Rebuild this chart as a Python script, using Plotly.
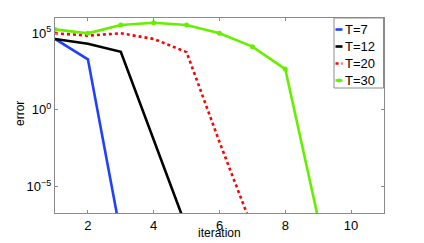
import plotly.graph_objects as go

iter_t7 = [1, 2, 3]
err_t7 = [4.3e4, 2.0e3, 7e-9]
iter_t12 = [1, 2, 3, 4, 5]
err_t12 = [4.3e4, 2.1e4, 6.2e3, 1.1e-2, 2e-8]
iter_t20 = [1, 2, 3, 4, 5, 6, 7]
err_t20 = [1.0e5, 7.1e4, 1.0e5, 4.3e4, 5.9e3, 8e-3, 2e-8]
iter_t30 = [1, 2, 3, 4, 5, 6, 7, 8, 9]
err_t30 = [1.8e5, 1.0e5, 3.5e5, 4.9e5, 3.5e5, 1.0e5, 1.35e4, 4.6e2, 8e-8]

names = ["T=7", "T=12", "T=20", "T=30"]
colors = ["#2040ff", "#000000", "#ff0000", "#66f000"]
dashes = ["solid", "solid", "dot", "solid"]
y_tickvals = [1e-5, 1, 1e5]
y_ticktext = ["10<sup>\u22125</sup>", "10<sup>0</sup>", "10<sup>5</sup>"]
x_tickvals = [2, 4, 6, 8, 10]

FONT = "Liberation Sans, Arial, Helvetica, sans-serif"
OFF = 8  # default page body margin
W, H = 424 - OFF, 243 - OFF
ML, MT = 55 - OFF, 18 - OFF
MR, MB = W - (384 - OFF), H - (213 - OFF)

fig = go.Figure()
series = [(iter_t7, err_t7), (iter_t12, err_t12), (iter_t20, err_t20), (iter_t30, err_t30)]
for i, (xs, ys) in enumerate(series):
    mode = "lines+markers" if i == 3 else "lines"
    fig.add_trace(go.Scatter(
        x=xs, y=ys, mode=mode, name=names[i],
        line=dict(color=colors[i], width=2.6, dash=dashes[i]),
        marker=dict(size=5, color=colors[i]),
        showlegend=False, cliponaxis=True,
    ))

axis_common = dict(
    showline=True, linecolor="#8a8a8a", linewidth=1, mirror="ticks",
    ticks="inside", ticklen=3, tickcolor="#8a8a8a", showgrid=False, zeroline=False,
    tickfont=dict(family=FONT, size=13, color="#000"), automargin=False,
)
fig.update_xaxes(range=[1, 11], tickvals=x_tickvals, **axis_common)
fig.update_yaxes(type="log", range=[-6.73, 6], tickvals=y_tickvals, ticktext=y_ticktext, **axis_common)

pw, ph = W - ML - MR, H - MT - MB
def px(xpage):
    return (xpage - OFF - ML) / pw
def py(ypage):
    return 1 - (ypage - OFF - MT) / ph

shapes = [dict(type="rect", xref="paper", yref="paper", x0=px(334), x1=px(383.5), y0=py(88), y1=py(18),
               line=dict(color="#8a8a8a", width=1), fillcolor="white", layer="above")]
annotations = [
    dict(xref="paper", yref="paper", x=px(219), y=py(233), text="iteration", showarrow=False,
         xanchor="center", yanchor="middle", font=dict(family=FONT, size=12, color="#000")),
    dict(xref="paper", yref="paper", x=px(20), y=py(114), text="error", showarrow=False, textangle=-90,
         xanchor="center", yanchor="middle", font=dict(family=FONT, size=12, color="#000")),
]
item_y = [29.5, 46.5, 63.5, 80.5]
for i in range(4):
    yy = py(item_y[i])
    shapes.append(dict(type="line", xref="paper", yref="paper", x0=px(335.5), x1=px(342.5), y0=yy, y1=yy,
                       line=dict(color=colors[i], width=2.6, dash=dashes[i]), layer="above"))
    if i == 3:
        shapes.append(dict(type="circle", xref="paper", yref="paper", x0=px(337), x1=px(341),
                           y0=py(item_y[i] + 2), y1=py(item_y[i] - 2), fillcolor=colors[i],
                           line=dict(color=colors[i], width=0), layer="above"))
    annotations.append(dict(xref="paper", yref="paper", x=px(342.5), y=yy, text=names[i], showarrow=False,
                            xanchor="left", yanchor="middle", font=dict(family=FONT, size=13, color="#000")))

fig.update_layout(
    width=W, height=H, margin=dict(l=ML, r=MR, t=MT, b=MB),
    paper_bgcolor="white", plot_bgcolor="white",
    shapes=shapes, annotations=annotations, showlegend=False,
)
fig.write_html("out.html")
